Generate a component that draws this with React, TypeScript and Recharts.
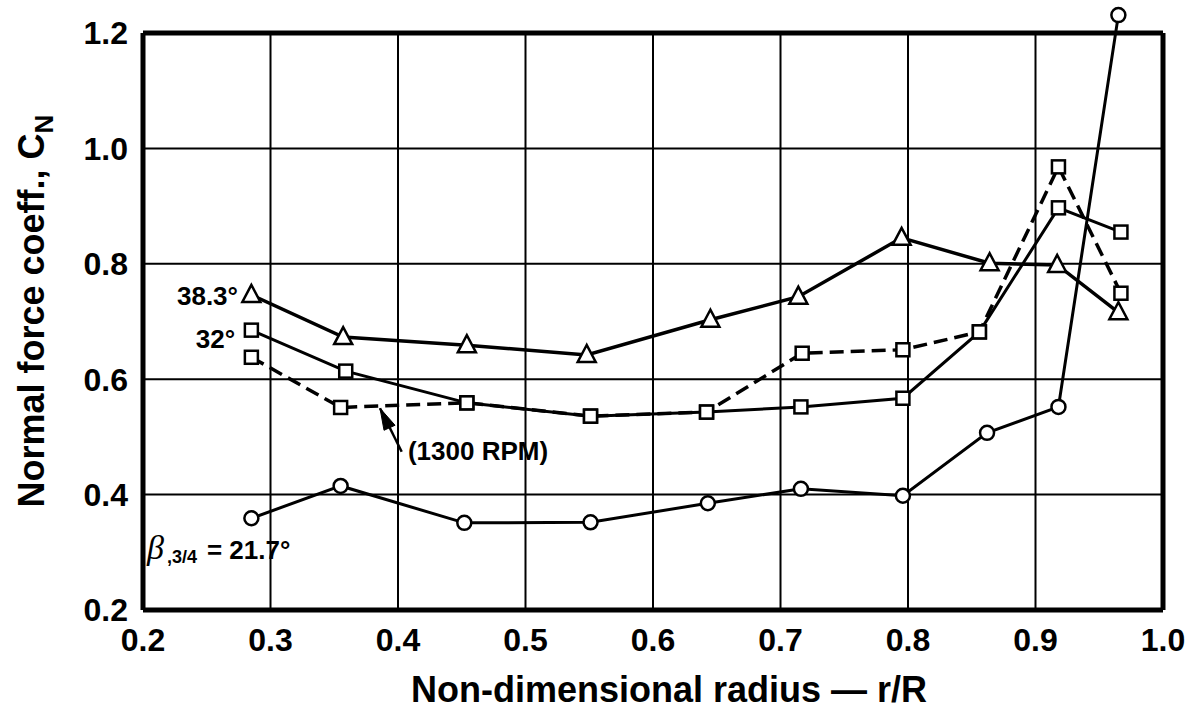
import React from 'react';
import { LineChart, Line, XAxis, YAxis, ReferenceLine, ReferenceDot, Label } from 'recharts';

// Axis ticks
const xTicks = [0.2, 0.3, 0.4, 0.5, 0.6, 0.7, 0.8, 0.9, 1.0];
const yTicks = [0.2, 0.4, 0.6, 0.8, 1.0, 1.2];

// beta 3/4 = 21.7 deg (circles)
const circR = [0.285, 0.355, 0.452, 0.551, 0.643, 0.716, 0.796, 0.862, 0.918, 0.965];
const circCN = [0.359, 0.415, 0.351, 0.352, 0.385, 0.41, 0.398, 0.507, 0.552, 1.231];

// 32 deg (squares, solid)
const sqR = [0.285, 0.359, 0.454, 0.551, 0.642, 0.716, 0.796, 0.856, 0.918, 0.967];
const sqCN = [0.685, 0.614, 0.559, 0.536, 0.543, 0.552, 0.567, 0.682, 0.897, 0.855];

// 32 deg, 1300 RPM (squares, dashed)
const rpmR = [0.285, 0.355, 0.454, 0.551, 0.642, 0.717, 0.796, 0.856, 0.918, 0.967];
const rpmCN = [0.638, 0.551, 0.559, 0.536, 0.543, 0.645, 0.651, 0.682, 0.968, 0.749];

// 38.3 deg (triangles)
const triR = [0.285, 0.357, 0.454, 0.548, 0.645, 0.714, 0.795, 0.864, 0.917, 0.965];
const triCN = [0.746, 0.673, 0.659, 0.642, 0.703, 0.743, 0.845, 0.801, 0.798, 0.716];

// Grid positions and arrow (data coordinates)
const vGrid = [0.3, 0.4, 0.5, 0.6, 0.7, 0.8, 0.9];
const hGrid = [0.4, 0.6, 0.8, 1.0];
const arrowTail = { x: 0.4029, y: 0.4743 };
const arrowTip = { x: 0.3859, y: 0.5496 };

const rows = (xs: number[], ys: number[]) => xs.map((x, i) => ({ x, y: ys[i] }));
const circData = rows(circR, circCN);
const sqData = rows(sqR, sqCN);
const rpmData = rows(rpmR, rpmCN);
const triData = rows(triR, triCN);

const FONT = '"Liberation Sans", Arial, Helvetica, sans-serif';

const CircleDot = (p: any) => (
  <circle key={`c${p.index}`} cx={p.cx} cy={p.cy} r={7} fill="#fff" stroke="#000" strokeWidth={2.5} />
);
const SquareDot = (p: any) => (
  <rect key={`s${p.index}`} x={p.cx - 6.5} y={p.cy - 6.5} width={13} height={13} fill="#fff" stroke="#000" strokeWidth={2.5} />
);
const TriangleDot = (p: any) => (
  <polygon
    key={`t${p.index}`}
    points={`${p.cx},${p.cy - 10} ${p.cx - 9},${p.cy + 7} ${p.cx + 9},${p.cy + 7}`}
    fill="#fff"
    stroke="#000"
    strokeWidth={2.5}
    strokeLinejoin="miter"
  />
);

const noteStyle = { fontFamily: FONT, fontWeight: 700, fontSize: 26, fill: '#000' };

const textNote = (value: string, anchor: 'start' | 'end') => (p: any) => (
  <text x={p.viewBox.x} y={p.viewBox.y} textAnchor={anchor} style={noteStyle}>
    {value}
  </text>
);

const betaNote = (p: any) => (
  <text x={p.viewBox.x} y={p.viewBox.y} style={noteStyle}>
    <tspan style={{ fontFamily: '"Liberation Serif", serif', fontStyle: 'italic', fontWeight: 400, fontSize: 34 }}>β</tspan>
    <tspan dx={3} dy={4} style={{ fontSize: 18 }}>,3/4</tspan>
    <tspan dx={10} dy={-4}>= 21.7°</tspan>
  </text>
);

const YTitle = (p: any) => {
  const vb = p.viewBox;
  const cx = vb.x + 44;
  const cy = vb.y + vb.height / 2 + 4;
  return (
    <text
      x={cx}
      y={cy}
      transform={`rotate(-90 ${cx} ${cy})`}
      textAnchor="middle"
      style={{ fontFamily: FONT, fontWeight: 700, fontSize: 36, fill: '#000' }}
    >
      Normal force coeff., C
      <tspan dy={9} style={{ fontSize: 26 }}>N</tspan>
    </text>
  );
};

const XTitle = (p: any) => {
  const vb = p.viewBox;
  return (
    <text
      x={vb.x + vb.width / 2 + 16}
      y={vb.y + 92}
      textAnchor="middle"
      style={{ fontFamily: FONT, fontWeight: 700, fontSize: 36, fill: '#000' }}
    >
      Non-dimensional radius — r/R
    </text>
  );
};

const ArrowHead = (p: any) => {
  const { cx, cy } = p;
  return <polygon points={`${cx},${cy} ${cx + 15},${cy + 17} ${cx + 4},${cy + 22}`} fill="#000" stroke="#000" strokeWidth={1} />;
};

const tickStyle = { fontSize: 32, fontWeight: 700, fill: '#000', fontFamily: FONT };

export default function App() {
  return (
    <div style={{ position: 'absolute', left: 0, top: 0, background: '#fff' }}>
      <LineChart width={1193} height={712} margin={{ top: 4.15, right: 30, bottom: 0, left: 0 }}>
        <XAxis
          type="number"
          dataKey="x"
          domain={[0.2, 1.0]}
          ticks={xTicks}
          interval={0}
          tickFormatter={(v: number) => v.toFixed(1)}
          axisLine={false}
          tickLine={false}
          tickSize={0}
          tickMargin={18}
          height={102}
          tick={tickStyle}
        >
          <Label content={XTitle} />
        </XAxis>
        <YAxis
          type="number"
          dataKey="y"
          domain={[0.2, 1.25]}
          ticks={yTicks}
          interval={0}
          tickFormatter={(v: number) => v.toFixed(1)}
          axisLine={false}
          tickLine={false}
          tickSize={0}
          tickMargin={15}
          width={143}
          tick={tickStyle}
        >
          <Label content={YTitle} />
        </YAxis>

        {vGrid.map((v) => (
          <ReferenceLine key={`vg${v}`} segment={[{ x: v, y: 0.2 }, { x: v, y: 1.2 }]} stroke="#000" strokeWidth={2} />
        ))}
        {hGrid.map((v) => (
          <ReferenceLine key={`hg${v}`} segment={[{ x: 0.2, y: v }, { x: 1.0, y: v }]} stroke="#000" strokeWidth={2} />
        ))}
        <ReferenceLine segment={[{ x: 0.2, y: 0.2 }, { x: 0.2, y: 1.2 }]} stroke="#000" strokeWidth={5} />
        <ReferenceLine segment={[{ x: 1.0, y: 0.2 }, { x: 1.0, y: 1.2 }]} stroke="#000" strokeWidth={5} />
        <ReferenceLine segment={[{ x: 0.2, y: 1.2 }, { x: 1.0, y: 1.2 }]} stroke="#000" strokeWidth={5} />
        <ReferenceLine segment={[{ x: 0.2, y: 0.2 }, { x: 1.0, y: 0.2 }]} stroke="#000" strokeWidth={5} />
        <ReferenceLine segment={[arrowTail, arrowTip]} stroke="#000" strokeWidth={2.5} />
        <ReferenceDot x={arrowTip.x} y={arrowTip.y} r={0} shape={ArrowHead} />

        <Line data={circData} dataKey="y" type="linear" stroke="#000" strokeWidth={3} dot={CircleDot} isAnimationActive={false} />
        <Line data={sqData} dataKey="y" type="linear" stroke="#000" strokeWidth={3} dot={SquareDot} isAnimationActive={false} />
        <Line data={rpmData} dataKey="y" type="linear" stroke="#000" strokeWidth={3.5} strokeDasharray="14 7" dot={SquareDot} isAnimationActive={false} />
        <Line data={triData} dataKey="y" type="linear" stroke="#000" strokeWidth={3.5} dot={TriangleDot} isAnimationActive={false} />

        <ReferenceDot x={0.2745} y={0.7286} r={0} fill="none" stroke="none" label={{ content: textNote('38.3°', 'end') }} />
        <ReferenceDot x={0.2722} y={0.654} r={0} fill="none" stroke="none" label={{ content: textNote('32°', 'end') }} />
        <ReferenceDot x={0.4078} y={0.46} r={0} fill="none" stroke="none" label={{ content: textNote('(1300 RPM)', 'start') }} />
        <ReferenceDot x={0.2031} y={0.2884} r={0} fill="none" stroke="none" label={{ content: betaNote }} />
      </LineChart>
    </div>
  );
}
